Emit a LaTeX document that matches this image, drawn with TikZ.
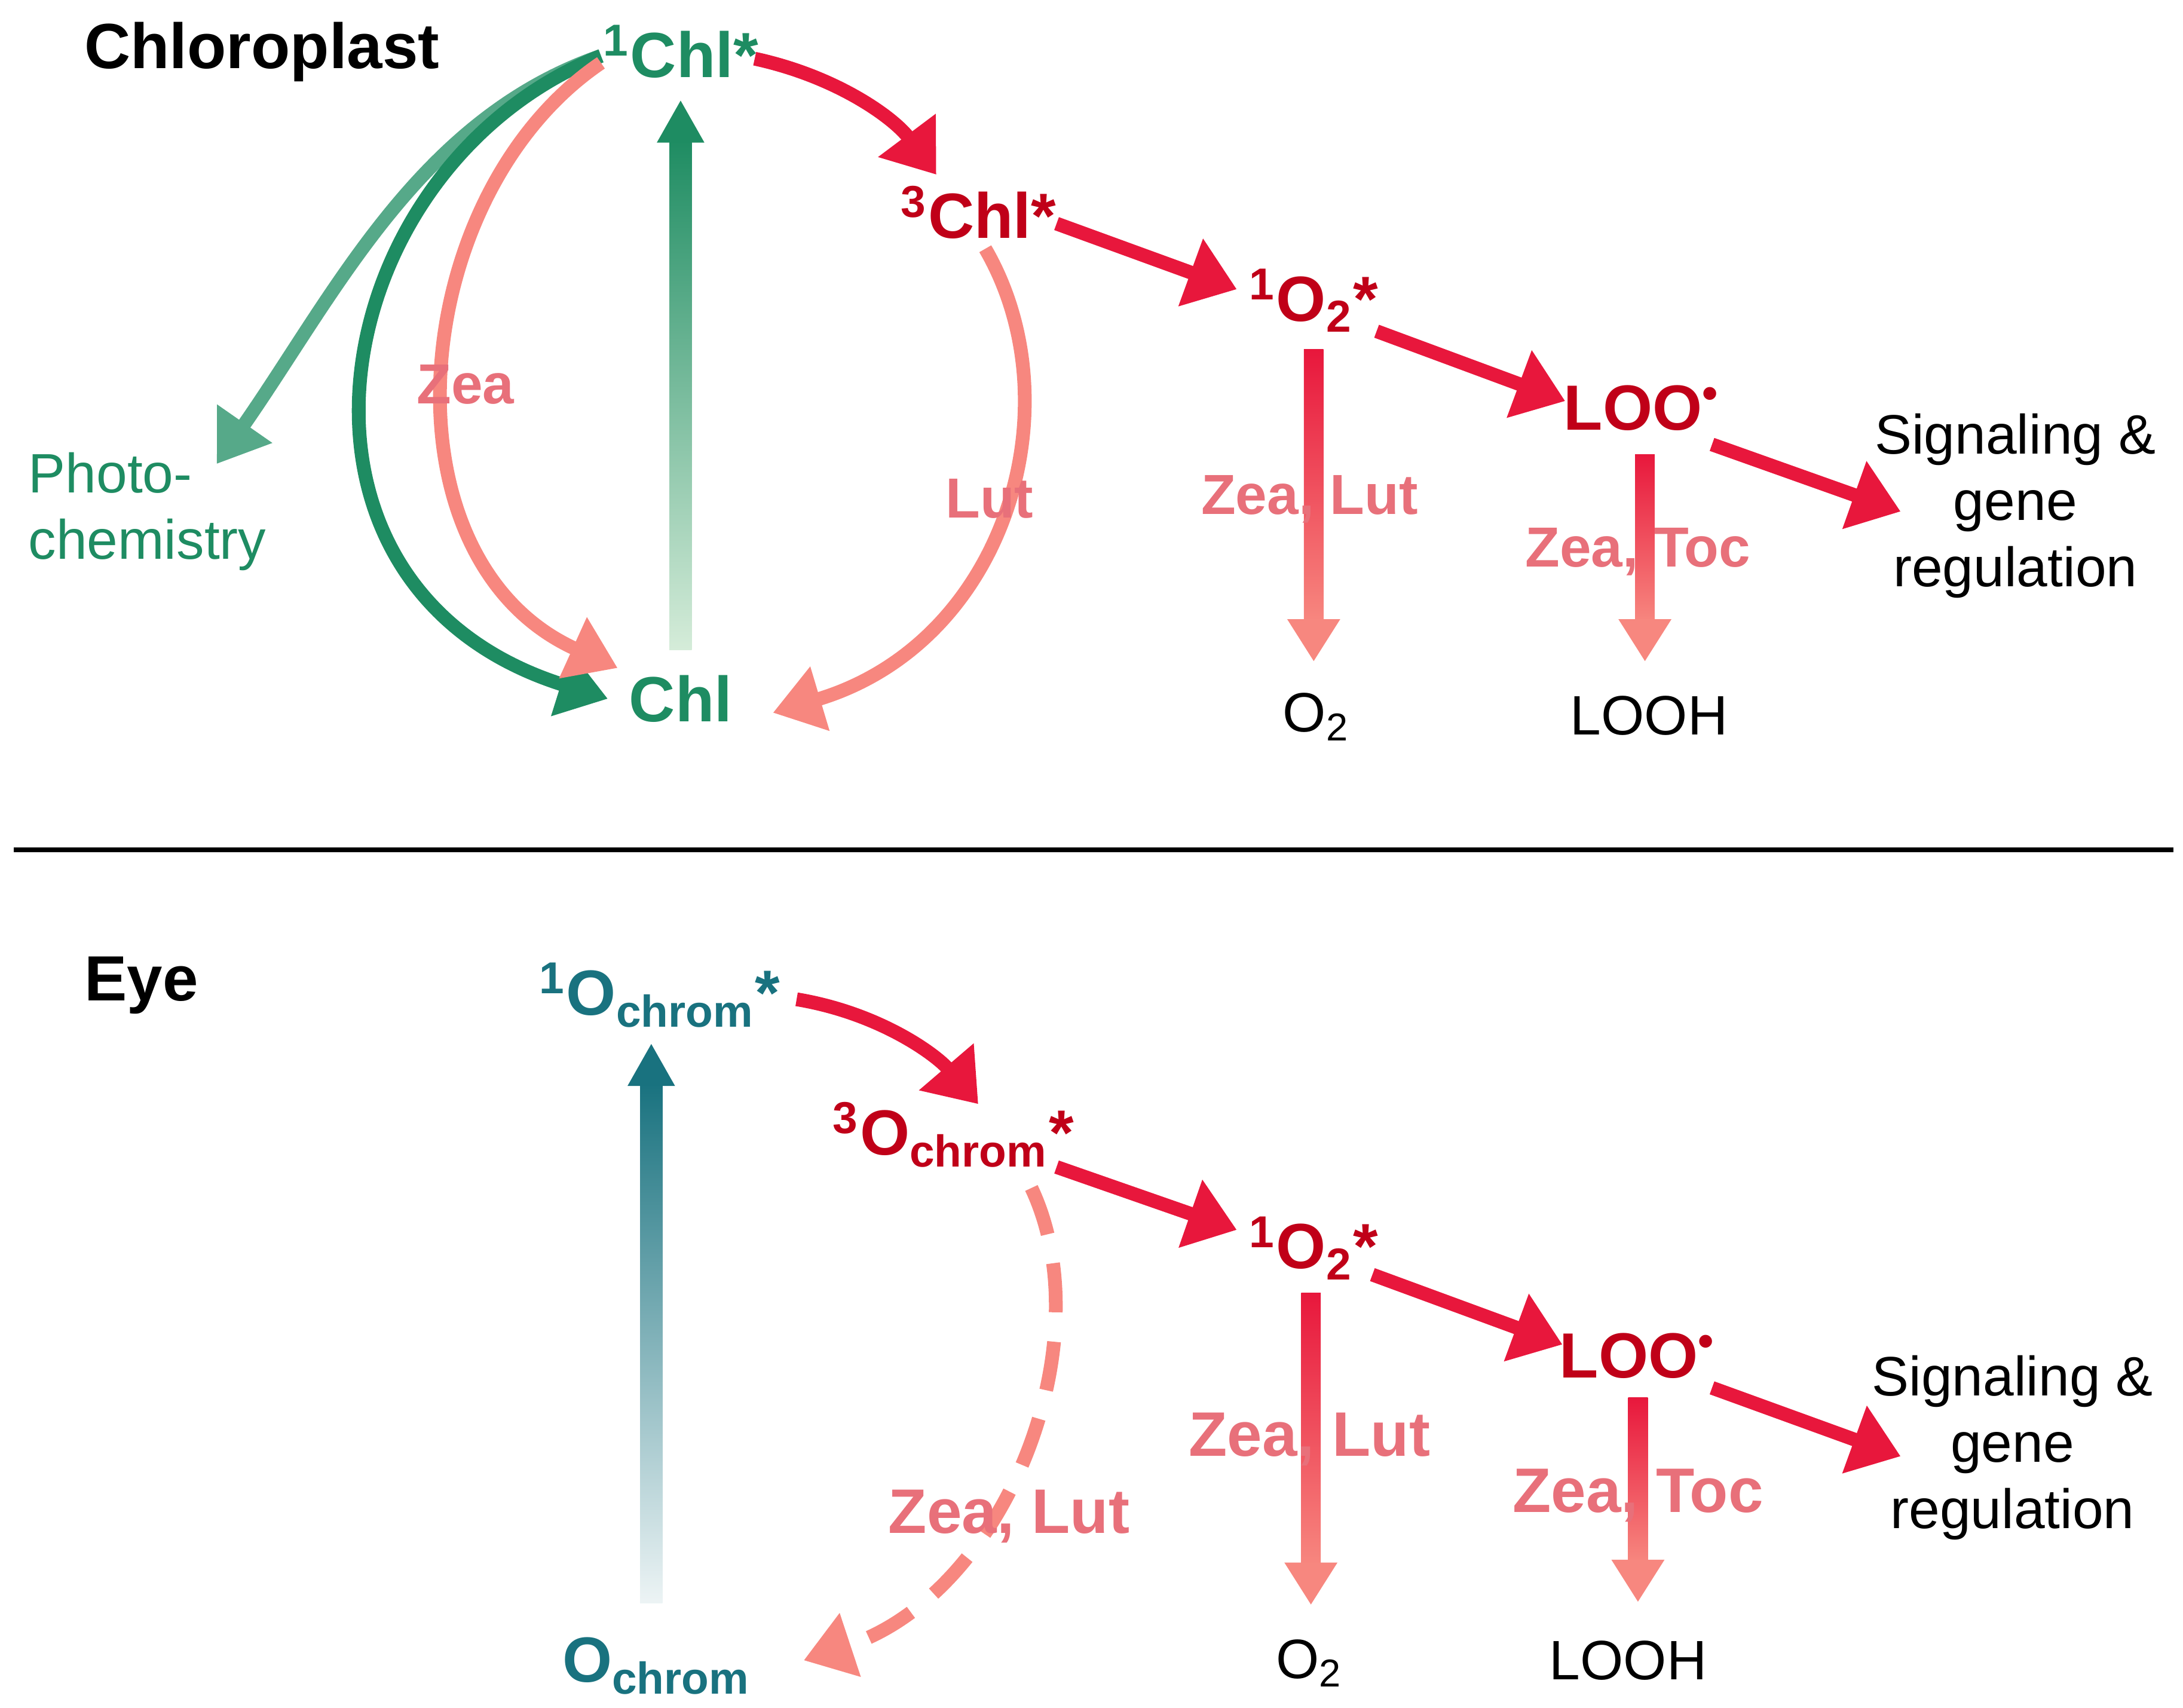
\documentclass[tikz,border=0pt]{standalone}
\usepackage{fontspec}
\setmainfont{Liberation Sans}
\usetikzlibrary{arrows.meta}
\definecolor{gr}{HTML}{1E8C62}
\definecolor{grl}{HTML}{D5ECD9}
\definecolor{rd}{HTML}{C00018}
\definecolor{ar}{HTML}{E8173C}
\definecolor{pk}{HTML}{F7877F}
\definecolor{pkt}{HTML}{E8707A}
\definecolor{tl}{HTML}{19727F}
\tikzset{
 lab/.style={font=\fontsize{13}{13}\selectfont\bfseries},
 txt/.style={font=\fontsize{11.3}{13.5}\selectfont, align=center},
 redarr/.style={ar, line width=2.8pt, -{Triangle[length=10pt,width=14pt]}},
 pkarr/.style={pk, line width=2.8pt, -{Triangle[length=10pt,width=13pt]}},
 grarr/.style={gr, line width=2.8pt, -{Triangle[length=10pt,width=13pt]}},
 plab/.style={font=\fontsize{11.5}{11.5}\selectfont\bfseries, text=pkt},
 plabb/.style={font=\fontsize{12.8}{12.8}\selectfont\bfseries, text=pkt},
}
\begin{document}
\begin{tikzpicture}[x=0.01cm,y=-0.01cm]
\useasboundingbox (0,0) rectangle (1562,1222);
% top
\node[lab, anchor=west] (chloro) at (48,37) {Chloroplast};
\node[lab, text=gr] (s1) at (487,37) {\textsuperscript{1}Chl*};
\node[lab, text=gr] (chl) at (487,500) {Chl};
\node[lab, text=rd] (t1) at (700,152) {\textsuperscript{3}Chl*};
\node[lab, text=rd] (o1) at (940,215) {\textsuperscript{1}O\textsubscript{2}*};
\node[lab, text=rd] (loo1) at (1175,292) {LOO\textsuperscript{•}};
\node[txt] (sig1) at (1442,362) {Signaling \&\\gene\\regulation};
\node[txt] (o2a) at (942,513) {O\textsubscript{2}};
\node[txt] (looh1) at (1180,512) {LOOH};
\node[txt, text=gr, align=left, anchor=west] (ph) at (8,366) {Photo-\\chemistry};
% green vertical
\shade[bottom color=grl, top color=gr] (479,465) rectangle (495,100);
\fill[gr] (470,102) -- (504,102) -- (487,72) -- cycle;
% green curves
\draw[grarr, gr!75] (430,40) .. controls (300,85) and (240,210) .. (155,332);
\draw[grarr] (430,40) .. controls (230,120) and (180,420) .. (435,500);
% pink
\draw[pkarr] (430,45) .. controls (290,140) and (270,400) .. (442,478);
\node[plab] (zea) at (333,275) {Zea};
\draw[pkarr] (705,178) .. controls (770,290) and (720,460) .. (553,510);
\node[plab] (lut) at (708,357) {Lut};
% red
\draw[redarr] (540,42) .. controls (600,55) and (640,85) .. (670,125);
\draw[redarr] (756,160) -- (885,207);
\draw[redarr] (985,237) -- (1120,287);
\draw[redarr] (1225,318) -- (1360,366);
\shade[top color=ar, bottom color=pk] (933,250) rectangle (947,445);
\fill[pk] (921,443) -- (959,443) -- (940,473) -- cycle;
\node[plab] (zl1) at (937,357) {Zea, Lut};
\shade[top color=ar, bottom color=pk] (1170,325) rectangle (1184,445);
\fill[pk] (1158,443) -- (1196,443) -- (1177,473) -- cycle;
\node[plab] (zt1) at (1172,395) {Zea, Toc};
% divider
\draw[line width=1pt] (10,608) -- (1555,608);
% bottom
\node[lab, anchor=west] (eye) at (48,705) {Eye};
\node[lab, text=tl] (s2) at (472,712) {\textsuperscript{1}O\textsubscript{chrom}*};
\node[lab, text=tl] (och) at (470,1192) {O\textsubscript{chrom}};
\shade[bottom color=tl!8, top color=tl] (458,1147) rectangle (474,775);
\fill[tl] (449,777) -- (483,777) -- (466,747) -- cycle;
\node[lab, text=rd] (t2) at (682,812) {\textsuperscript{3}O\textsubscript{chrom}*};
\node[lab, text=rd] (o3) at (940,893) {\textsuperscript{1}O\textsubscript{2}*};
\node[lab, text=rd] (loo2) at (1172,970) {LOO\textsuperscript{•}};
\node[txt] (sig2) at (1440,1036) {Signaling \&\\gene\\regulation};
\node[txt] (o2b) at (937,1190) {O\textsubscript{2}};
\node[txt] (looh2) at (1165,1188) {LOOH};
\draw[redarr] (570,715) .. controls (630,725) and (670,755) .. (700,790);
\draw[redarr] (756,835) -- (885,880);
\draw[redarr] (982,912) -- (1118,962);
\draw[redarr] (1225,993) -- (1360,1042);
\draw[pkarr, dash pattern=on 10pt off 6pt] (738,850) .. controls (790,960) and (720,1140) .. (575,1188);
\node[plabb] (zl3) at (722,1085) {Zea, Lut};
\shade[top color=ar, bottom color=pk] (931,925) rectangle (945,1120);
\fill[pk] (919,1118) -- (957,1118) -- (938,1148) -- cycle;
\node[plabb] (zl2) at (937,1030) {Zea, Lut};
\shade[top color=ar, bottom color=pk] (1165,1000) rectangle (1179,1118);
\fill[pk] (1153,1116) -- (1191,1116) -- (1172,1146) -- cycle;
\node[plabb] (zt2) at (1172,1070) {Zea, Toc};
\end{tikzpicture}
\end{document}
